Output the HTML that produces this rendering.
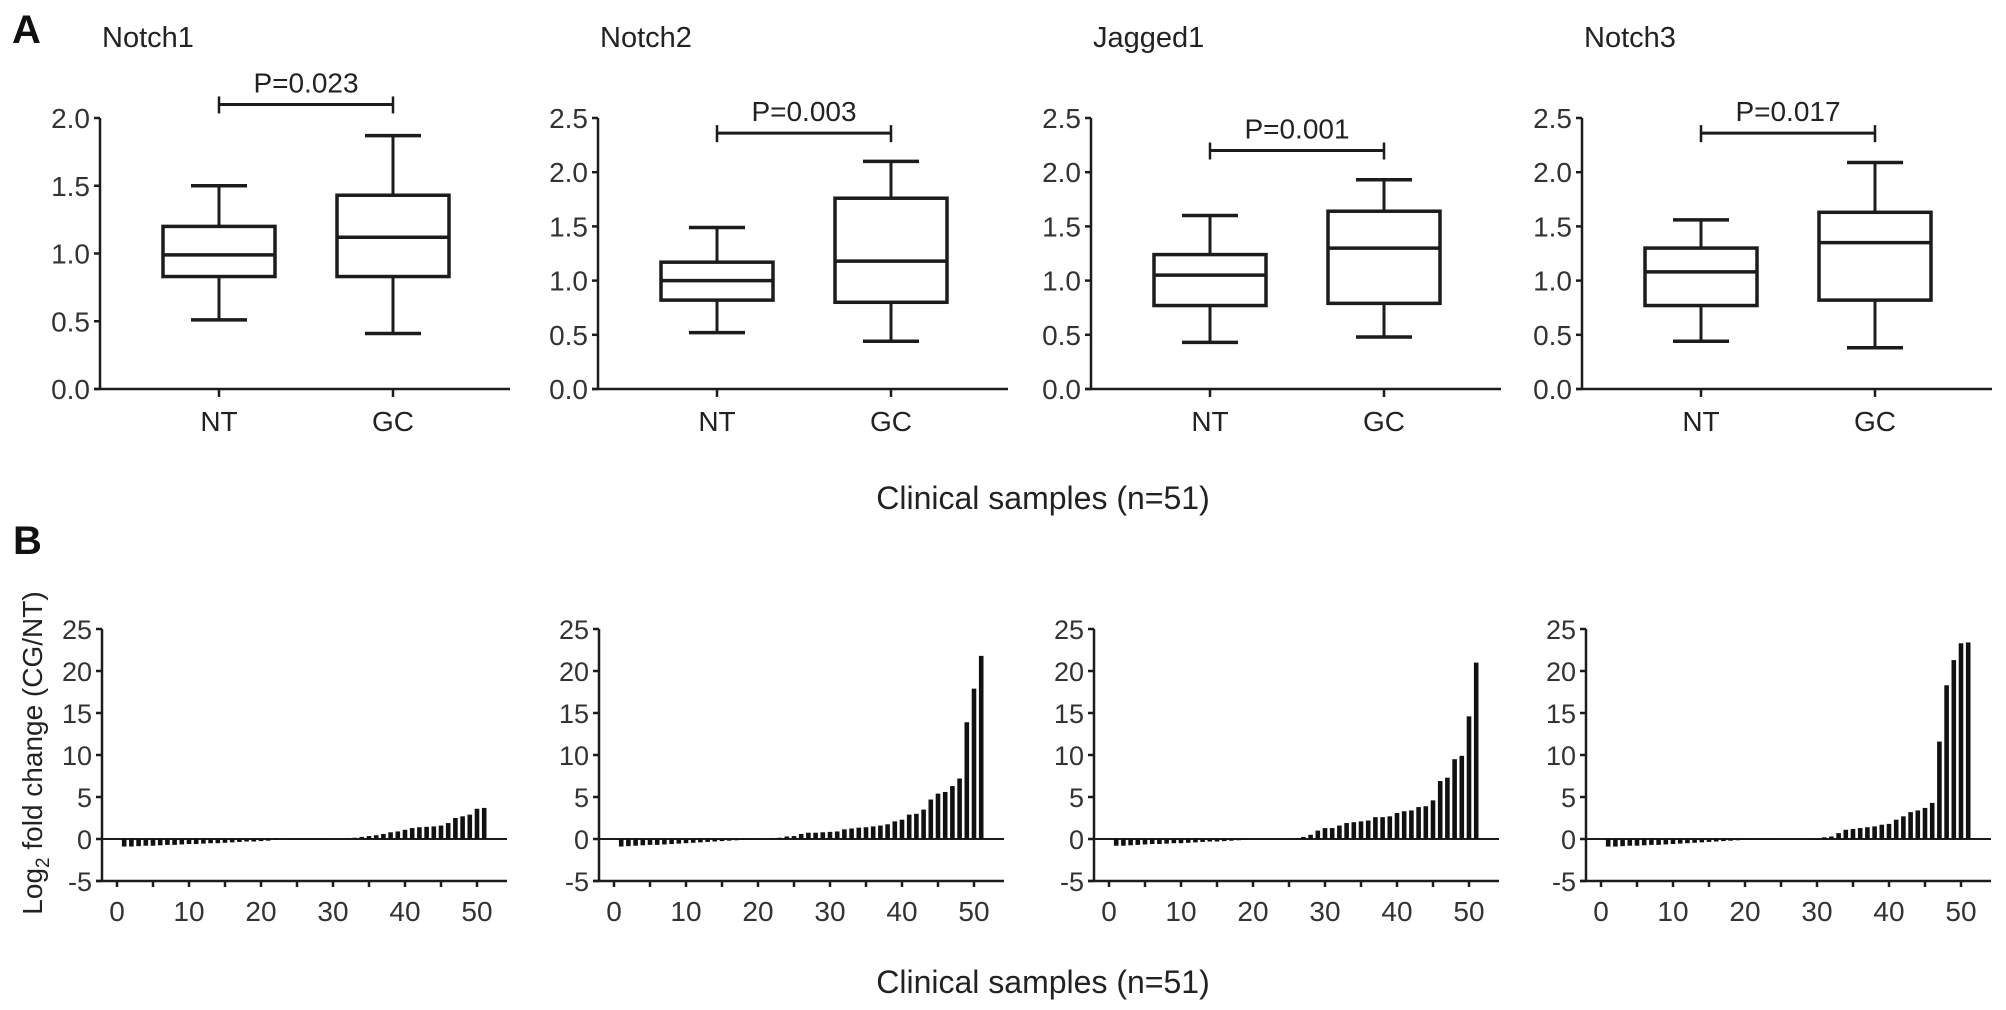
<!DOCTYPE html>
<html><head><meta charset="utf-8">
<style>
html,body{margin:0;padding:0;background:#fff;}
svg{display:block;font-family:"Liberation Sans",Arial,sans-serif;}
</style></head>
<body>
<svg id="fig" width="2006" height="1010" viewBox="0 0 2006 1010" xmlns="http://www.w3.org/2000/svg">
<text x="12" y="43" font-size="40" font-weight="bold" fill="#111">A</text>
<text x="13" y="554" font-size="40" font-weight="bold" fill="#111">B</text>
<text x="1043" y="509" font-size="32" text-anchor="middle" fill="#222">Clinical samples (n=51)</text>
<text x="1043" y="993" font-size="32" text-anchor="middle" fill="#222">Clinical samples (n=51)</text>
<text transform="translate(42,753) rotate(-90)" font-size="28" text-anchor="middle" fill="#222">Log<tspan font-size="19" dy="7">2</tspan><tspan dy="-7"> fold change (CG/NT)</tspan></text>
<g id="boxes"></g>
<g id="bars"></g>
</svg>
<script>
// ---- Panel A data ----
const genes = ["Notch1", "Notch2", "Jagged1", "Notch3"];
const groups = ["NT", "GC"];
const pValues = ["P=0.023", "P=0.003", "P=0.001", "P=0.017"];
const bracketLevels = [2.1, 2.36, 2.2, 2.36];
const yMaxA = [2.0, 2.5, 2.5, 2.5];
// [whiskerLow, q1, median, q3, whiskerHigh]
const ntStats = [
  [0.51, 0.83, 0.99, 1.20, 1.50],
  [0.52, 0.82, 1.00, 1.17, 1.49],
  [0.43, 0.77, 1.05, 1.24, 1.60],
  [0.44, 0.77, 1.08, 1.30, 1.56]
];
const gcStats = [
  [0.41, 0.83, 1.12, 1.43, 1.87],
  [0.44, 0.80, 1.18, 1.76, 2.10],
  [0.48, 0.79, 1.30, 1.64, 1.93],
  [0.38, 0.82, 1.35, 1.63, 2.09]
];
const tickLabelsA1 = ["0.0", "0.5", "1.0", "1.5", "2.0"];
const tickLabelsA2 = ["0.0", "0.5", "1.0", "1.5", "2.0", "2.5"];

// ---- Panel B data (log2 fold change, samples 1..51 sorted) ----
const samples = Array.from({length: 51}, (_, i) => i + 1);
const foldNotch1 = [-0.9,-0.9,-0.85,-0.8,-0.8,-0.75,-0.7,-0.7,-0.65,-0.6,-0.6,-0.55,-0.5,-0.5,-0.45,-0.4,-0.35,-0.3,-0.3,-0.25,-0.2,-0.1,-0.05,0,0,0,0,0,0,0,0,0.1,0.15,0.25,0.35,0.45,0.6,0.8,0.9,1.1,1.3,1.4,1.45,1.5,1.6,1.9,2.5,2.7,2.9,3.6,3.7];
const foldNotch2 = [-0.9,-0.85,-0.8,-0.75,-0.7,-0.7,-0.65,-0.6,-0.55,-0.5,-0.45,-0.4,-0.35,-0.3,-0.25,-0.2,-0.15,-0.1,-0.05,0,0.05,0.1,0.15,0.3,0.35,0.6,0.75,0.75,0.8,0.85,0.9,1.15,1.25,1.35,1.4,1.5,1.6,1.75,2.1,2.3,2.9,3.0,3.5,4.7,5.4,5.6,6.3,7.2,13.9,17.9,21.8];
const foldJagged1 = [-0.8,-0.8,-0.75,-0.7,-0.65,-0.6,-0.6,-0.55,-0.5,-0.5,-0.45,-0.4,-0.35,-0.3,-0.3,-0.25,-0.2,-0.15,-0.1,-0.05,0,0,0,0,0.05,0.1,0.25,0.5,1.0,1.3,1.3,1.6,1.9,2.0,2.1,2.2,2.6,2.6,2.7,3.1,3.3,3.4,3.8,3.9,4.6,6.9,7.3,9.5,9.9,14.6,21.0];
const foldNotch3 = [-0.9,-0.9,-0.85,-0.8,-0.8,-0.75,-0.7,-0.7,-0.65,-0.6,-0.55,-0.5,-0.45,-0.4,-0.35,-0.3,-0.25,-0.2,-0.15,-0.1,-0.05,-0.05,0,0,0,0,0,0,0,0,0.2,0.3,0.7,1.1,1.2,1.3,1.4,1.5,1.7,1.8,2.3,2.7,3.2,3.4,3.7,4.3,11.6,18.3,21.3,23.3,23.4];
const foldSeries = [foldNotch1, foldNotch2, foldJagged1, foldNotch3];
const tickLabelsBY = ["-5", "0", "5", "10", "15", "20", "25"];
const tickLabelsBX = ["0", "10", "20", "30", "40", "50"];

const NS = "http://www.w3.org/2000/svg";
const C = "#1c1c1c";
function mk(tag, attrs, parent) {
  const e = document.createElementNS(NS, tag);
  for (const k in attrs) e.setAttribute(k, attrs[k]);
  parent.appendChild(e);
  return e;
}
function line(p, x1, y1, x2, y2, w) {
  return mk("line", {x1, y1, x2, y2, stroke: C, "stroke-width": w}, p);
}

// ---- draw panel A ----
const boxRoot = document.getElementById("boxes");
const axesA = [100, 598, 1091, 1582];
const yBottomA = 389, yTopA = 118;
genes.forEach((gene, gi) => {
  const ax = axesA[gi];
  const g = mk("g", {}, boxRoot);
  
  
  const yMax = yMaxA[gi];
  const ys = v => yBottomA - (v / yMax) * (yBottomA - yTopA);
  const xs = k => ax + 119 + k * 174;
  const title = mk("text", {x: ax + 2, y: 47, "font-size": 29, fill: "#222"}, g);
  title.textContent = gene;
  
  
  const yAxis = line(g, ax, yTopA, ax, yBottomA, 2.5);
  
  
  const xAxis = line(g, ax - 6, yBottomA, ax + 410, yBottomA, 2.5);
  
  
  const labels = gi === 0 ? tickLabelsA1 : tickLabelsA2;
  labels.forEach(lab => {
    const y = ys(parseFloat(lab));
    line(g, ax - 6, y, ax, y, 2.5);
    const t = mk("text", {x: ax - 10, y: y + 10, "font-size": 28, "text-anchor": "end", fill: "#333"}, g);
    t.textContent = lab;
    
    
  });
  groups.forEach((grp, k) => {
    const x = xs(k);
    line(g, x, yBottomA, x, yBottomA + 8, 2.5);
    const t = mk("text", {x: x, y: 431, "font-size": 28, "text-anchor": "middle", fill: "#222"}, g);
    t.textContent = grp;
    
    
    const s = (k === 0 ? ntStats : gcStats)[gi];
    const bg = mk("g", {}, g);
    
    
    line(bg, x, ys(s[0]), x, ys(s[1]), 3);
    line(bg, x, ys(s[3]), x, ys(s[4]), 3);
    line(bg, x - 28, ys(s[0]), x + 28, ys(s[0]), 3.5);
    line(bg, x - 28, ys(s[4]), x + 28, ys(s[4]), 3.5);
    mk("rect", {x: x - 56, y: ys(s[3]), width: 112, height: ys(s[1]) - ys(s[3]), fill: "none", stroke: C, "stroke-width": 3.5}, bg);
    line(bg, x - 56, ys(s[2]), x + 56, ys(s[2]), 3.5);
  });
  const by = ys(bracketLevels[gi]);
  const br = mk("g", {}, g);
  
  
  line(br, xs(0), by, xs(1), by, 3);
  line(br, xs(0), by - 8, xs(0), by + 9, 2.5);
  line(br, xs(1), by - 8, xs(1), by + 9, 2.5);
  const pt = mk("text", {x: (xs(0) + xs(1)) / 2, y: by - 12, "font-size": 28, "text-anchor": "middle", fill: "#222"}, g);
  pt.textContent = pValues[gi];
  
  
});

// ---- draw panel B ----
const barRoot = document.getElementById("bars");
const axesB = [102, 599, 1094, 1586];
const y0B = 839, pxPerUnitB = 8.4, pxPerSample = 7.2;
foldSeries.forEach((series, gi) => {
  const ax = axesB[gi];
  const g = mk("g", {}, barRoot);
  
  
  const ys = v => y0B - v * pxPerUnitB;
  const xs = i => ax + 15 + i * pxPerSample;
  const yAxis = line(g, ax, ys(25), ax, ys(-5), 2.5);
  
  
  const xAxis = line(g, ax - 6, ys(-5), ax + 405, ys(-5), 2.5);
  
  
  const zl = line(g, ax, ys(0), ax + 405, ys(0), 2);
  
  
  tickLabelsBY.forEach(lab => {
    const y = ys(parseFloat(lab));
    line(g, ax - 6, y, ax, y, 2.5);
    const t = mk("text", {x: ax - 10, y: y + 10, "font-size": 27, "text-anchor": "end", fill: "#333"}, g);
    t.textContent = lab;
    
    
  });
  for (let v = 0; v <= 50; v += 5) line(g, xs(v), ys(-5), xs(v), ys(-5) + 6, 2.5);
  tickLabelsBX.forEach(lab => {
    const t = mk("text", {x: xs(parseFloat(lab)), y: 921, "font-size": 28, "text-anchor": "middle", fill: "#333"}, g);
    t.textContent = lab;
    
    
  });
  series.forEach((v, i) => {
    const x = xs(samples[i]);
    const top = Math.min(ys(v), ys(0)), h = Math.abs(ys(v) - ys(0));
    const b = mk("rect", {x: x - 2.3, y: top, width: 4.6, height: Math.max(h, 0.5), fill: "#111"}, g);
    
    
  });
});
</script>
</body></html>
